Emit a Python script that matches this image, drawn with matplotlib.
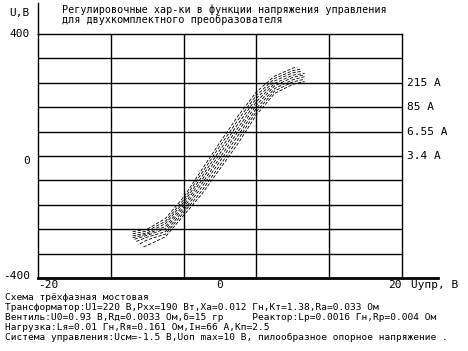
import matplotlib
matplotlib.use("Agg")
import matplotlib.pyplot as plt

# регулировочные характеристики, значения
# (Uупр, В ; Ud, В) для каждой кривой
x0 = [-9.6, -8, -6, -4, -2, 0, 2, 4, 6, 8, 8.5]
y0 = [-248, -240, -205, -135, -45, 45, 132, 210, 262, 288, 292]
x1 = [-9.6, -8, -6, -4, -2, 0, 2, 4, 6, 8, 8.8]
y1 = [-255, -246, -214, -144, -56, 33, 119, 199, 254, 280, 284]
x2 = [-9.6, -8, -6, -4, -2, 0, 2, 4, 6, 8, 9.0]
y2 = [-262, -252, -222, -152, -68, 20, 106, 189, 246, 273, 278]
x3 = [-9.6, -8, -6, -4, -2, 0, 2, 4, 6, 8, 9.3]
y3 = [-268, -256, -231, -161, -79, 8, 93, 178, 238, 265, 271]
x4 = [-9.4, -8, -6, -4, -2, 0, 2, 4, 6, 8, 9.3]
y4 = [-273, -260, -239, -169, -91, -5, 81, 167, 230, 258, 266]
x5 = [-9.2, -8, -6, -4, -2, 0, 2, 4, 6, 8, 9.3]
y5 = [-280, -266, -248, -178, -102, -17, 68, 156, 221, 250, 260]
x6 = [-8.8, -8, -6, -4, -2, 0, 2, 4, 6, 8, 9.3]
y6 = [-288, -275, -256, -186, -114, -30, 55, 146, 213, 243, 252]
x7 = [-8.4, -8, -6, -4, -2, 0, 2, 4, 6, 8, 9.3]
y7 = [-298, -293, -265, -195, -125, -42, 42, 135, 205, 235, 244]

curves_x = [x0, x1, x2, x3, x4, x5, x6, x7]
curves_y = [y0, y1, y2, y3, y4, y5, y6, y7]

# токи нагрузки, подписи справа (по уровням сетки)
load_labels = ["215 А", "85 А", "6.55 А", "3.4 А"]
load_levels = [240, 160, 80, 0]

xticks_lab = [-20, 0, 20]
yticks_lab = [400, 0, -400]

title = ["Регулировочные хар-ки в функции напряжения управления",
         "для двухкомплектного преобразователя"]
notes = ["Схема трёхфазная мостовая",
         "Трансформатор:U1=220 В,Pxx=190 Вт,Xa=0.012 Гн,Kт=1.38,Ra=0.033 Ом",
         "Вентиль:U0=0.93 В,Rд=0.0033 Ом,δ=15 гр     Реактор:Lр=0.0016 Гн,Rр=0.004 Ом",
         "Нагрузка:Lя=0.01 Гн,Rя=0.161 Ом,Iн=66 А,Кп=2.5",
         "Система управления:Uсм=-1.5 В,Uоп max=10 В, пилообразное опорное напряжение ."]

plt.rcParams['font.family'] = ['DejaVu Sans Mono']
fs = 7.3
fs_note = 6.8
fs_big = 8

W, H = 468, 351
fig = plt.figure(figsize=(W / 100, H / 100), dpi=100)
ax = fig.add_axes([38 / W, 1 - 278 / H, 364 / W, 244 / H])
ax.set_xlim(-20, 20)
ax.set_ylim(-400, 400)

# сетка
for yy in range(-320, 400, 80):
    ax.axhline(yy, color='k', lw=1)
for xx in [-12, -4, 4, 12]:
    ax.axvline(xx, color='k', lw=1)

for cx, cy in zip(curves_x, curves_y):
    ax.plot(cx, cy, color='k', lw=0.6, ls=(0, (4, 2)))

ax.set_xticks([])
ax.set_yticks([])
for s in ax.spines.values():
    s.set_color('k')
    s.set_linewidth(1)
ax.spines['bottom'].set_linewidth(2)

# продолжения осей
ax.plot([-20, -20], [400, 502], color='k', lw=1, clip_on=False)
ax.plot([20, 24], [-400, -400], color='k', lw=2, clip_on=False)

ax.text(-20.9, 400, "400", ha='right', va='center', fontsize=fs_big)
ax.text(-20.9, -15, "0", ha='right', va='center', fontsize=fs_big)
ax.text(-20.9, -392, "-400", ha='right', va='center', fontsize=fs_big)
ax.text(-20, -408, str(xticks_lab[0]), ha='left', va='top', fontsize=fs_big)
ax.text(0, -408, str(xticks_lab[1]), ha='center', va='top', fontsize=fs_big)
ax.text(20, -408, str(xticks_lab[2]), ha='right', va='top', fontsize=fs_big)
ax.text(21.0, -408, "Uупр, В", ha='left', va='top', fontsize=fs_big)
ax.text(-20.9, 470, "U,В", ha='right', va='center', fontsize=fs_big)

for lab, lev in zip(load_labels, load_levels):
    ax.text(20.6, lev, lab, ha='left', va='center', fontsize=fs_big)

fig.text(62 / W, 1 - 10 / H, title[0], ha='left', va='center', fontsize=fs)
fig.text(62 / W, 1 - 19.5 / H, title[1], ha='left', va='center', fontsize=fs)

for i, line in enumerate(notes):
    fig.text(5 / W, 1 - (298 + 9.8 * i) / H, line, ha='left', va='center', fontsize=fs_note)

fig.savefig("out.png", dpi=100)
